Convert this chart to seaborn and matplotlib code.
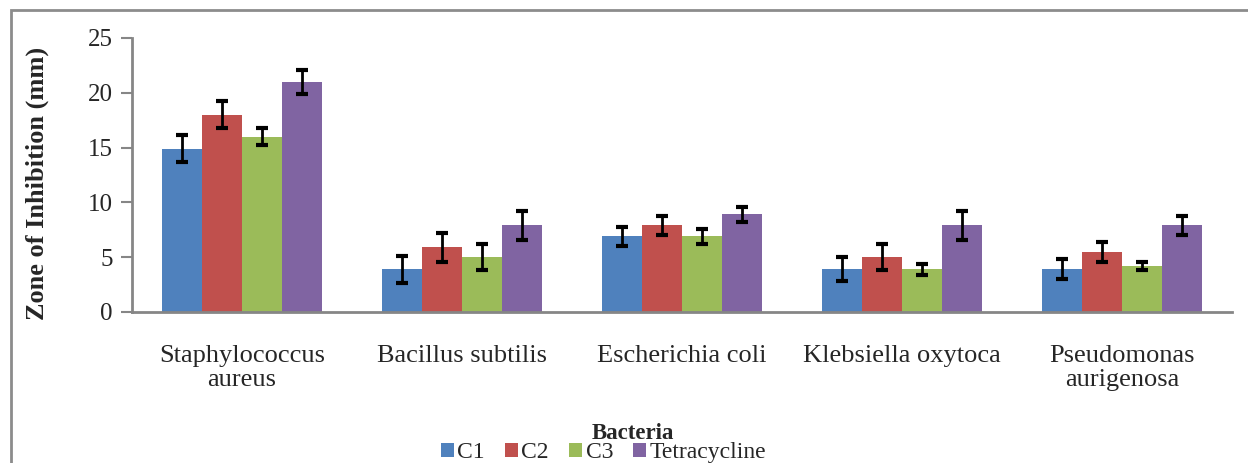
import matplotlib
matplotlib.use("Agg")
import matplotlib.pyplot as plt
from matplotlib.patches import Rectangle
import numpy as np
import pandas as pd
import seaborn as sns

bacteria = [
    "Staphylococcus\naureus",
    "Bacillus subtilis",
    "Escherichia coli",
    "Klebsiella oxytoca",
    "Pseudomonas\naurigenosa",
]
treatments = ["C1", "C2", "C3", "Tetracycline"]

c1 = [14.9, 3.9, 6.9, 3.9, 3.9]
c2 = [18.0, 5.9, 7.9, 5.0, 5.5]
c3 = [16.0, 5.0, 6.9, 3.9, 4.2]
tetra = [21.0, 7.9, 8.9, 7.9, 7.9]

c1_err = [1.25, 1.25, 0.85, 1.1, 0.9]
c2_err = [1.25, 1.3, 0.85, 1.2, 0.9]
c3_err = [0.8, 1.2, 0.7, 0.5, 0.4]
tetra_err = [1.1, 1.35, 0.7, 1.3, 0.9]

colors = ["#4F81BD", "#C0504D", "#9BBB59", "#8064A2"]

values = [c1, c2, c3, tetra]
errors = [c1_err, c2_err, c3_err, tetra_err]
rows = []
for t, vals, errs in zip(treatments, values, errors):
    for b, v, e in zip(bacteria, vals, errs):
        rows.append({"Bacteria": b, "Treatment": t, "zone": v, "err": e})
df = pd.DataFrame(rows)

sns.set_theme(style="white")
plt.rcParams["font.family"] = ["Liberation Serif", "DejaVu Serif"]

fig = plt.figure(figsize=(12.48, 4.63), dpi=100)
ax = fig.add_axes([132 / 1248, 1 - 312 / 463, 1100 / 1248, 274 / 463])

sns.barplot(
    data=df, x="Bacteria", y="zone", hue="Treatment",
    order=bacteria, hue_order=treatments, palette=colors,
    width=0.73, errorbar=None, saturation=1, linewidth=0, ax=ax, legend=True,
)

# error bars on the bar centres
for i, t in enumerate(treatments):
    cont = ax.containers[i]
    sub = df[df["Treatment"] == t].set_index("Bacteria").loc[bacteria]
    xs = [p.get_x() + p.get_width() / 2 for p in cont.patches]
    hs = [p.get_height() for p in cont.patches]
    ax.errorbar(xs, hs, yerr=sub["err"].values, fmt="none", ecolor="black",
                elinewidth=2, capsize=4.5, capthick=3, zorder=5)

gray = "#868686"
ax.set_ylim(0, 25)
ax.set_xlim(-0.5, 4.5)
ax.set_yticks([0, 5, 10, 15, 20, 25])
ax.set_xticks(range(5))
ax.set_xticklabels(bacteria, fontsize=19, linespacing=1.1)
ax.set_xticks(np.arange(-0.5, 5, 1), minor=True)
ax.tick_params(axis="x", which="major", length=0, pad=24)
ax.tick_params(axis="x", which="minor", length=7, width=1.5, color=gray, direction="out")
ax.tick_params(axis="y", length=8, width=1.5, color=gray, direction="out",
               labelsize=18, pad=6, left=True)
for s in ["top", "right"]:
    ax.spines[s].set_visible(False)
for s in ["left", "bottom"]:
    ax.spines[s].set_color(gray)
    ax.spines[s].set_linewidth(2)

ax.set_ylabel("Zone of Inhibition (mm)", fontsize=19, fontweight="bold")
ax.yaxis.set_label_coords(-0.0755, 0.47)
ax.set_xlabel("Bacteria", fontsize=16.5, fontweight="bold", va="center")
ax.xaxis.set_label_coords(0.455, -0.445)

handles, labels = ax.get_legend_handles_labels()
ax.legend(handles, labels, loc="center", bbox_to_anchor=(0.4836, 0.022),
          bbox_transform=fig.transFigure, ncol=4, frameon=False, fontsize=17,
          handlelength=0.55, handleheight=0.55, handletextpad=0.15,
          columnspacing=0.85, borderpad=0)

fig.patches.append(Rectangle((11 / 1248, -0.2), 1.2, 1 - 10 / 463 + 0.2,
                             transform=fig.transFigure, fill=False,
                             edgecolor="#8c8c8c", linewidth=2))

fig.savefig("out.png", dpi=100)
